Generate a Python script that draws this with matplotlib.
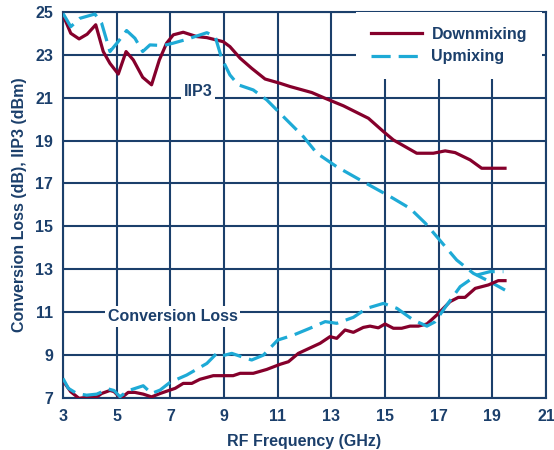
import matplotlib
matplotlib.use("Agg")
import matplotlib.pyplot as plt

# IIP3 curves (GHz, dBm)
down_iip3_f = [3.0, 3.29, 3.6, 3.9, 4.22, 4.5, 4.75, 5.06, 5.35, 5.62, 5.97, 6.3, 6.59, 6.86,
               7.11, 7.48, 7.98, 8.36, 8.97, 9.22, 9.6, 10.03, 10.53, 11.09, 11.46, 12.27,
               12.77, 13.45, 14.38, 14.94, 15.31, 16.18, 16.8, 17.24, 17.61, 18.17, 18.6, 19.47]
down_iip3 = [24.86, 24.0, 23.74, 23.96, 24.4, 23.15, 22.6, 22.1, 23.15, 22.76, 21.95, 21.6, 22.76,
             23.54, 23.93, 24.05, 23.85, 23.8, 23.61, 23.38, 22.84, 22.37, 21.87, 21.67, 21.52,
             21.24, 20.97, 20.62, 20.04, 19.42, 19.03, 18.41, 18.41, 18.52, 18.44, 18.1, 17.71, 17.71]

up_iip3_f = [3.0, 3.29, 3.63, 4.19, 4.44, 4.75, 5.06, 5.37, 5.68, 5.97, 6.24, 6.74, 7.1, 7.61,
             8.36, 8.67, 8.91, 9.22, 9.53, 10.09, 10.59, 11.09, 11.4, 11.96, 12.46, 13.2,
             14.19, 15.19, 15.93, 16.5, 17.67, 18.29, 18.91, 19.47]
up_iip3 = [24.93, 24.31, 24.7, 24.9, 24.47, 23.15, 23.62, 24.13, 23.77, 23.15, 23.46, 23.43,
           23.54, 23.72, 24.03, 23.85, 22.84, 22.06, 21.6, 21.36, 20.9, 20.27, 19.88, 19.18,
           18.41, 17.78, 17.08, 16.39, 15.84, 15.15, 13.43, 12.81, 12.42, 12.03]

# Conversion loss curves (GHz, dB)
down_cl_f = [3.0, 3.29, 3.6, 3.95, 4.26, 4.44, 4.75, 4.9, 5.15, 5.43, 5.68, 5.99, 6.3, 6.62,
             6.99, 7.18, 7.48, 7.8, 8.1, 8.6, 9.34, 9.6, 10.09, 10.59, 11.09, 11.4, 11.77,
             12.58, 12.95, 13.2, 13.51, 13.82, 14.19, 14.44, 14.75, 15.0, 15.31, 15.62, 15.93,
             16.24, 16.56, 16.93, 17.42, 17.73, 17.98, 18.36, 18.85, 19.22, 19.47]
down_cl = [7.8, 7.29, 6.98, 7.05, 7.05, 7.21, 7.35, 7.3, 6.98, 7.26, 7.26, 7.18, 7.05, 7.21,
           7.37, 7.45, 7.68, 7.68, 7.87, 8.04, 8.04, 8.15, 8.15, 8.33, 8.57, 8.69, 9.08,
           9.55, 9.86, 9.78, 10.17, 10.06, 10.29, 10.35, 10.27, 10.45, 10.25, 10.25, 10.35,
           10.35, 10.45, 10.87, 11.49, 11.69, 11.69, 12.11, 12.27, 12.47, 12.47]

up_cl_f = [3.0, 3.2, 3.51, 3.88, 4.26, 4.69, 4.9, 5.12, 5.43, 5.99, 6.3, 6.62, 6.99, 7.61,
           8.36, 8.73, 8.91, 9.29, 9.66, 10.03, 10.47, 11.0, 11.58, 12.2, 12.77, 13.2, 13.82,
           14.32, 14.94, 15.44, 16.06, 16.56, 16.86, 17.3, 17.8, 18.42, 18.91, 19.41]
up_cl = [7.91, 7.45, 7.21, 7.13, 7.18, 7.42, 7.35, 7.06, 7.34, 7.57, 7.21, 7.37, 7.73, 8.07,
         8.61, 9.08, 8.96, 9.08, 8.92, 8.77, 9.0, 9.7, 9.93, 10.25, 10.56, 10.48, 10.76,
         11.18, 11.41, 11.18, 10.63, 10.35, 10.55, 11.33, 12.19, 12.73, 12.89, 12.89]

x_ticks = list(range(3, 22, 2))
y_ticks = list(range(7, 26, 2))

RED = "#85002b"
CYAN = "#1eaad6"
NAVY = "#1b3f6b"

plt.rcParams["font.family"] = ["Liberation Sans", "DejaVu Sans"]
plt.rcParams["font.weight"] = "bold"

fig = plt.figure(figsize=(5.54, 4.5), dpi=100)
ax = fig.add_axes([0.1137, 0.1156, 0.872, 0.858])

ax.plot(down_iip3_f, down_iip3, color=RED, lw=2.3, label="Downmixing", zorder=3)
ax.plot(up_iip3_f, up_iip3, color=CYAN, lw=2.3, dashes=(6, 2.5), label="Upmixing", zorder=3)
ax.plot(down_cl_f, down_cl, color=RED, lw=2.3, zorder=3)
ax.plot(up_cl_f, up_cl, color=CYAN, lw=2.3, dashes=(6, 2.5), zorder=3)

ax.set_xlim(3, 21)
ax.set_ylim(7, 25)
ax.set_xticks(x_ticks)
ax.set_yticks(y_ticks)
ax.tick_params(axis="both", length=0, labelsize=11.5, labelcolor=NAVY)
ax.tick_params(axis="x", pad=8)
ax.tick_params(axis="y", pad=7)
for lab in ax.get_xticklabels() + ax.get_yticklabels():
    lab.set_fontweight("bold")
ax.grid(True, color=NAVY, lw=1.5, zorder=1)
ax.set_axisbelow(True)
for s in ax.spines.values():
    s.set_color(NAVY)
    s.set_linewidth(1.5)

ax.set_xlabel("RF Frequency (GHz)", fontsize=11.5, fontweight="bold", color=NAVY, labelpad=7)
ax.set_ylabel("Conversion Loss (dB), IIP3 (dBm)", fontsize=11.5, fontweight="bold",
              color=NAVY, labelpad=6)

box = dict(facecolor="white", edgecolor="none", pad=2)
ax.text(8.03, 21.3, "IIP3", ha="center", va="center", fontsize=11.5, fontweight="bold",
        color=NAVY, bbox=box, zorder=2)
ax.text(7.08, 10.8, "Conversion Loss", ha="center", va="center", fontsize=11.5,
        fontweight="bold", color=NAVY, bbox=box, zorder=2)

leg = ax.legend(loc="upper right", bbox_to_anchor=(0.9917, 1.0), frameon=True, fancybox=False,
                handlelength=3.2, handletextpad=0.6, fontsize=11.5, labelspacing=0.45,
                borderpad=0.95, borderaxespad=0.0)
leg.get_frame().set_facecolor("white")
leg.get_frame().set_edgecolor("none")
leg.get_frame().set_alpha(1)
for t in leg.get_texts():
    t.set_color(NAVY)
    t.set_fontweight("bold")

fig.savefig("out.png", dpi=100)
